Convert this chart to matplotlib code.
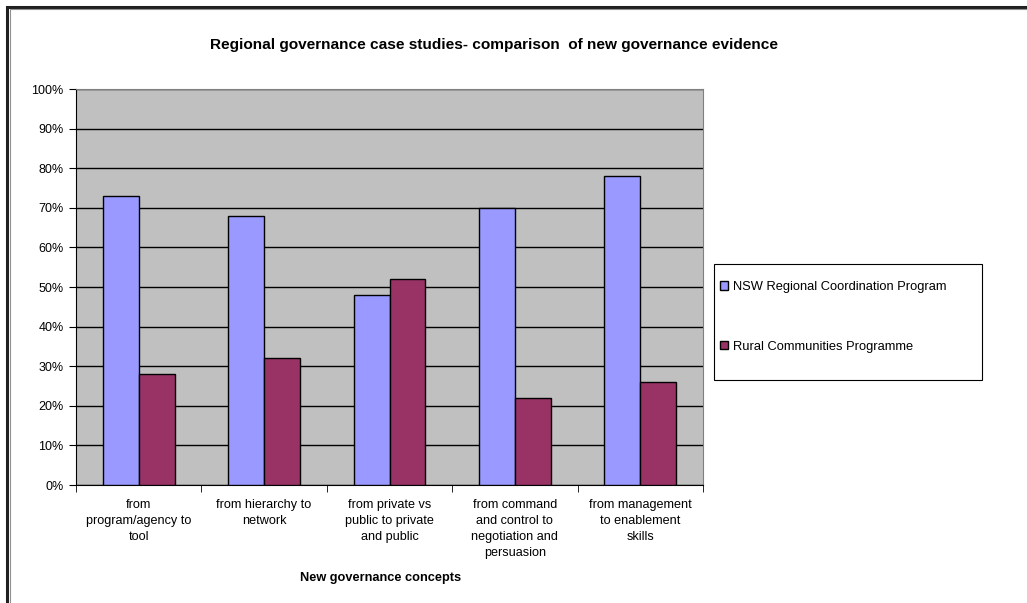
import numpy as np
import matplotlib.pyplot as plt
from matplotlib.patches import Rectangle

plt.rcParams['font.family'] = ['Liberation Sans', 'DejaVu Sans']

categories = ['from\nprogram/agency to\ntool', 'from hierarchy to\nnetwork',
              'from private vs\npublic to private\nand public',
              'from command\nand control to\nnegotiation and\npersuasion',
              'from management\nto enablement\nskills']
nsw = [73, 68, 48, 70, 78]
rural = [28, 32, 52, 22, 26]
series_names = ['NSW Regional Coordination Program', 'Rural Communities Programme']

W, H = 1027, 603
fig = plt.figure(figsize=(W / 100, H / 100), dpi=100)
ax = fig.add_axes([76 / W, 1 - 485 / H, (703 - 76) / W, (485 - 89) / H])
ax.set_facecolor('#C0C0C0')

x = np.arange(len(categories))
bw = 0.287
b1 = ax.bar(x - bw / 2, nsw, bw, color='#9999FF', edgecolor='black', linewidth=1, zorder=3,
            label=series_names[0])
b2 = ax.bar(x + bw / 2, rural, bw, color='#993366', edgecolor='black', linewidth=1, zorder=3,
            label=series_names[1])

ax.set_xlim(-0.5, len(categories) - 0.5)
ax.set_ylim(0, 100)
ax.set_yticks(range(0, 101, 10))
ax.set_yticklabels([f'{v}%' for v in range(0, 101, 10)], fontsize=9)
ax.yaxis.grid(True, color='black', linewidth=1, zorder=1)
ax.set_axisbelow(True)

ax.set_xticks(x)
ax.set_xticklabels(categories, fontsize=9.1, linespacing=1.45)
ax.set_xticks(np.arange(-0.5, len(categories)), minor=True)
ax.tick_params(axis='x', which='major', length=0, pad=10)
ax.tick_params(axis='x', which='minor', length=5, color='black')
ax.tick_params(axis='y', length=5, color='black', pad=4)

for s in ['top', 'right']:
    ax.spines[s].set_color('#808080')
for s in ['left', 'bottom']:
    ax.spines[s].set_color('black')

ax.set_xlabel('New governance concepts', fontsize=9.2, fontweight='bold')
ax.xaxis.set_label_coords((381 - 76) / 627, -(572 - 485) / 396)

fig.text(494.5 / W, 1 - 45 / H,
         'Regional governance case studies- comparison  of new governance evidence',
         ha='center', va='center', fontsize=11.1, fontweight='bold')

# legend box
fig.patches.append(Rectangle((714 / W, 1 - 380 / H), (982 - 714) / W, (380 - 264) / H,
                             transform=fig.transFigure, facecolor='white',
                             edgecolor='black', linewidth=0.8, zorder=1))
leg = fig.legend(handles=[b1, b2], loc='upper left',
                 bbox_to_anchor=(720 / W, 1 - 281 / H), fontsize=9.3,
                 frameon=False, handlelength=0.62, handleheight=0.62, handletextpad=0.35,
                 labelspacing=3.7, borderpad=0, borderaxespad=0)
leg.set_zorder(2)

# outer chart border
fig.patches.append(Rectangle((7 / W, -0.1), 1.2, 1 - 7 / H + 0.1, transform=fig.transFigure,
                             fill=False, edgecolor='#202020', linewidth=2.2))
fig.patches.append(Rectangle((9.5 / W, -0.1), 1.2, 1 - 9 / H + 0.1, transform=fig.transFigure,
                             fill=False, edgecolor='#909090', linewidth=0.8))

fig.savefig('out.png', dpi=100)
